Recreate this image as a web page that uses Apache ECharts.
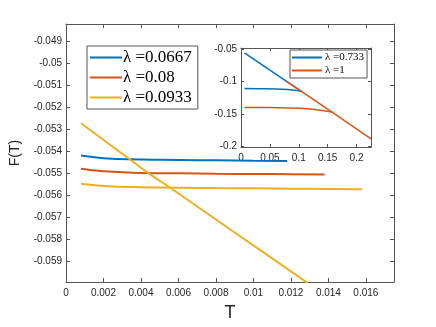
<!DOCTYPE html>
<html>
<head>
<meta charset="utf-8">
<script src="https://cdn.jsdelivr.net/npm/echarts@6/dist/echarts.min.js"></script>
<style>
  html, body { margin: 0; padding: 0; background: #fff; }
  #chart { width: 436px; height: 327px; }
</style>
</head>
<body>
<div id="chart"></div>
<script>
// main plot: F(T) against T
const tBlue = [0.0008, 0.002, 0.004, 0.006, 0.008, 0.01, 0.0118]
const fBlue = [-0.0542, -0.05432, -0.05438, -0.0544, -0.05442, -0.05444, -0.05445]
const tRed = [0.0008, 0.002, 0.004, 0.006, 0.008, 0.01, 0.012, 0.0138]
const fRed = [-0.0548, -0.05492, -0.05499, -0.05501, -0.05503, -0.05504, -0.05505, -0.05506]
const tYellow = [0.0008, 0.002, 0.004, 0.006, 0.008, 0.01, 0.012, 0.014, 0.0158]
const fYellow = [-0.05548, -0.05558, -0.05564, -0.05566, -0.05568, -0.05569, -0.05571, -0.05572, -0.05573]
// steep yellow branch
const tSteep = [0.0008, 0.0034, 0.0044, 0.0055, 0.008, 0.0105, 0.0129]
const fSteep = [-0.05273, -0.05437, -0.055, -0.05563, -0.05711, -0.05858, -0.06]

// inset
const tInBlueFlat = [0.006, 0.03, 0.06, 0.09, 0.105]
const fInBlueFlat = [-0.111, -0.1112, -0.1118, -0.1132, -0.1157]
const tInBlueDiag = [0.006, 0.105]
const fInBlueDiag = [-0.056, -0.1157]
const tInRedFlat = [0.006, 0.05, 0.1, 0.13, 0.157]
const fInRedFlat = [-0.14, -0.1403, -0.1414, -0.1435, -0.147]
const tInRedDiag = [0.079, 0.157, 0.225]
const fInRedDiag = [-0.1, -0.147, -0.1885]

const mainNames = ['λ =0.0667', 'λ =0.08', 'λ =0.0933']
const insetNames = ['λ =0.733', 'λ =1']

const xTicks = [0, 0.002, 0.004, 0.006, 0.008, 0.01, 0.012, 0.014, 0.016]
const yTicks = [-0.059, -0.058, -0.057, -0.056, -0.055, -0.054, -0.053, -0.052, -0.051, -0.05, -0.049]
const xTicksIn = [0, 0.05, 0.1, 0.15, 0.2]
const yTicksIn = [-0.2, -0.15, -0.1, -0.05]

const colors = ['#0072BD', '#D95319', '#EDB120']

function zip(xs, ys) {
  return xs.map((x, i) => [x, ys[i]])
}

const chart = echarts.init(document.getElementById('chart'))

const axisLine = { show: true, onZero: false, lineStyle: { color: '#555', width: 1 } }
const labelStyle = { color: '#262626', fontSize: 10, fontFamily: 'Liberation Sans' }

function xAx(gridIndex, pos, min, max, ticks, showLabel, tickLen) {
  return {
    type: 'value', gridIndex, position: pos, min, max,
    axisLine,
    splitLine: { show: false },
    axisTick: { show: true, inside: true, length: tickLen, customValues: ticks, lineStyle: { color: '#555' } },
    axisLabel: Object.assign({ show: showLabel, customValues: ticks, margin: 6 }, labelStyle)
  }
}

function yAx(gridIndex, pos, min, max, ticks, showLabel, tickLen) {
  return {
    type: 'value', gridIndex, position: pos, min, max,
    axisLine,
    splitLine: { show: false },
    axisTick: { show: true, inside: true, length: tickLen, customValues: ticks, lineStyle: { color: '#555' } },
    axisLabel: Object.assign({ show: showLabel, customValues: ticks, margin: 4 }, labelStyle)
  }
}

const xMain = xAx(0, 'bottom', 0, 0.0175, xTicks, true, 4)
xMain.name = 'T'
xMain.nameLocation = 'middle'
xMain.nameGap = 22
xMain.nameTextStyle = { fontSize: 18, color: '#262626', fontFamily: 'Liberation Sans' }

const yMain = yAx(0, 'left', -0.05995, -0.04822, yTicks, true, 4)
yMain.name = 'F(T)'
yMain.nameLocation = 'middle'
yMain.nameGap = 44
yMain.nameRotate = 90
yMain.nameTextStyle = { fontSize: 14, color: '#262626', fontFamily: 'Liberation Sans' }

const option = {
  animation: false,
  backgroundColor: '#fff',
  grid: [
    { left: 58, right: 42, top: 24, bottom: 40 },
    { left: 241, top: 48, width: 130, height: 99, show: true, backgroundColor: '#fff', borderWidth: 0 }
  ],
  legend: [
    {
      data: mainNames,
      orient: 'vertical',
      left: 87,
      top: 46,
      icon: 'rect',
      itemWidth: 32,
      itemHeight: 2,
      itemGap: 3,
      padding: [3, 6, 3, 3],
      borderColor: '#555',
      borderWidth: 1,
      backgroundColor: '#fff',
      textStyle: { fontSize: 17, fontFamily: 'Liberation Serif', color: '#000', padding: [0, 0, 0, -4] }
    },
    {
      data: insetNames,
      orient: 'vertical',
      left: 290,
      top: 50,
      icon: 'rect',
      itemWidth: 30,
      itemHeight: 2,
      itemGap: 2,
      padding: [2, 3, 2, 2],
      borderColor: '#555',
      borderWidth: 1,
      backgroundColor: '#fff',
      z: 10,
      textStyle: { fontSize: 11, fontFamily: 'Liberation Serif', color: '#000', padding: [0, 0, 0, -2] }
    }
  ],
  xAxis: [
    xMain,
    xAx(0, 'top', 0, 0.0175, xTicks, false, 4),
    xAx(1, 'bottom', 0, 0.225, xTicksIn, true, 3),
    xAx(1, 'top', 0, 0.225, xTicksIn, false, 3)
  ],
  yAxis: [
    yMain,
    yAx(0, 'right', -0.05995, -0.04822, yTicks, false, 4),
    yAx(1, 'left', -0.201, -0.0485, yTicksIn, true, 3),
    yAx(1, 'right', -0.201, -0.0485, yTicksIn, false, 3)
  ],
  series: [
    { name: mainNames[0], type: 'line', data: zip(tBlue, fBlue), color: colors[0], symbol: 'none', smooth: true, lineStyle: { width: 2 } },
    { name: mainNames[1], type: 'line', data: zip(tRed, fRed), color: colors[1], symbol: 'none', smooth: true, lineStyle: { width: 2 } },
    { name: mainNames[2], type: 'line', data: zip(tYellow, fYellow), color: colors[2], symbol: 'none', smooth: true, lineStyle: { width: 2 } },
    { name: 'steep', type: 'line', data: zip(tSteep, fSteep), color: colors[2], symbol: 'none', smooth: true, lineStyle: { width: 2 } },
    { name: insetNames[0], type: 'line', xAxisIndex: 2, yAxisIndex: 2, data: zip(tInBlueFlat, fInBlueFlat), color: colors[0], symbol: 'none', smooth: true, lineStyle: { width: 1.5 }, z: 5 },
    { name: 'blueDiag', type: 'line', xAxisIndex: 2, yAxisIndex: 2, data: zip(tInBlueDiag, fInBlueDiag), color: colors[0], symbol: 'none', lineStyle: { width: 1.5 }, z: 5 },
    { name: insetNames[1], type: 'line', xAxisIndex: 2, yAxisIndex: 2, data: zip(tInRedFlat, fInRedFlat), color: colors[1], symbol: 'none', smooth: true, lineStyle: { width: 1.5 }, z: 5 },
    { name: 'redDiag', type: 'line', xAxisIndex: 2, yAxisIndex: 2, data: zip(tInRedDiag, fInRedDiag), color: colors[1], symbol: 'none', lineStyle: { width: 1.5 }, z: 6 }
  ]
}

chart.setOption(option)
</script>
</body>
</html>
